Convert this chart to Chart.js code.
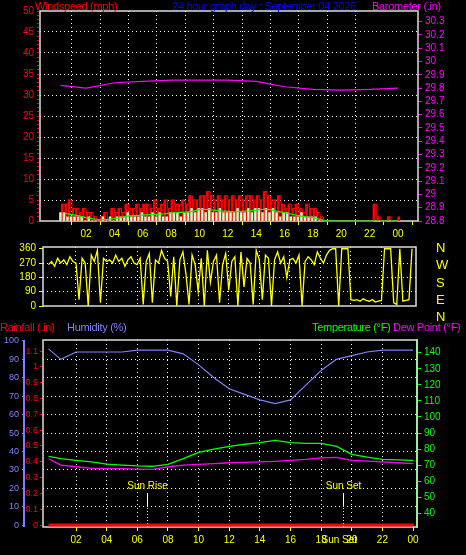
<!DOCTYPE html>
<html><head><meta charset="utf-8">
<script src="https://cdn.jsdelivr.net/npm/chart.js@4.4.1/dist/chart.umd.min.js"></script>
<style>
body{margin:0;background:#000;width:466px;height:555px;overflow:hidden;position:relative;font-family:"Liberation Sans",Arial,sans-serif}
canvas{position:absolute;left:0}
.t{position:absolute;font-size:11px;white-space:nowrap;letter-spacing:-0.3px;line-height:12px}
</style></head><body>
<div style="position:absolute;left:0;top:0;width:466px;height:240px"><canvas id="c1" width="466" height="240"></canvas></div>
<div style="position:absolute;left:0;top:238px;width:466px;height:77px"><canvas id="c2" width="466" height="77"></canvas></div>
<div style="position:absolute;left:0;top:320px;width:466px;height:235px"><canvas id="c3" width="466" height="235"></canvas></div>
<div class="t" style="left:35px;top:0;color:#f00">Windspeed (mph)</div>
<div class="t" style="left:172px;top:0;color:#00f">24 hour graph day : September 04 2026</div>
<div class="t" style="left:372px;top:0;color:#f0f">Barometer (.in)</div>
<div class="t" style="left:0;top:321px;color:#f00">Rainfall (.in)</div>
<div class="t" style="left:67px;top:321px;color:#8080ff">Humidity (%)</div>
<div class="t" style="left:312px;top:321px;color:#0f0">Temperature (°F)</div>
<div class="t" style="left:393px;top:321px;color:#f0f">Dew Point (°F)</div>
<div class="t" style="left:436px;top:239px;color:#ff0;line-height:17.3px;font-size:13px">N<br>W<br>S<br>E<br>N</div>
<script>
// ---- data ----
const xTickHours = [2,4,6,8,10,12,14,16,18,20,22,24];
const xTickLabels = ['02','04','06','08','10','12','14','16','18','20','22','00'];
const windHours = Array.from({length:96},(_,i)=>(i+1)*0.25);
const gust = [4,4,5,3,3,2,3,2, 2,1,0,1,2,0,3,2, 3,2,4,3,3,4,3,4, 4,3,5,3,4,5,3,5,
  4,4,5,4,6,5,5,6, 6,7,6,5,6,5,6,5, 6,5,6,5,6,6,5,6, 5,7,6,5,5,6,4,3,
  4,3,4,3,2,4,3,3, 2,1,0,0,0,0,0,0, 0,0,0,0,0,0,0,0, 4,1,0,0,1,0,0,1];
const avgSpeed = [2,2,1,1,1,1,1,0, 1,0,0,0,1,0,1,0, 1,1,1,2,1,1,1,2, 1,1,2,1,2,1,1,2,
  2,2,1,2,2,3,2,3, 3,2,3,2,2,3,2,2, 2,2,3,2,2,3,2,3, 3,2,3,2,3,2,1,2,
  2,1,1,1,2,1,1,1, 1,0,0,0,0,0,0,0, 0,0,0,0,0,0,0,0, 0,0,0,0,0,0,0,0];
const smoothHours = Array.from({length:48},(_,i)=>(i+1)*0.5);
const smoothAvg = [1.8,1.5,1.2,0.8,0.5,0.3,0.4,0.6, 0.8,1.2,1.3,1.4,1.5,1.6,1.7,1.9,
  2.0,2.1,2.3,2.7,2.8,2.6,2.4,2.3, 2.2,2.3,2.4,2.6,2.8,2.7,2.3,2.0,
  1.6,1.3,1.0,0.8,0.4,0,0,0, 0,0,0,0,0,0,0,0];
const baroHours = [0.2,2,4,6,8,10,12,14,16,18,20,22,24];
const barometer = [29.82,29.80,29.84,29.85,29.86,29.86,29.86,29.85,29.81,29.79,29.785,29.79,29.80];
const baroTicks = [28.8,28.9,29,29.1,29.2,29.3,29.4,29.5,29.6,29.7,29.8,29.9,30,30.1,30.2,30.3];
const dirHours = Array.from({length:120},(_,i)=>(i+1)*0.2);
const windDir = [260,280,250,300,270,290,260,310,280,270, 40,300,270,0,320,280,350,20,300,280,
  290,270,320,280,300,250,290,310,270,260, 300,10,280,330,20,290,270,350,300,280,
  60,310,0,290,340,200,10,320,260,90, 300,0,350,150,280,320,20,260,330,100,
  280,310,0,340,120,300,270,10,350,290, 40,320,300,0,290,340,270,310,180,290,
  300,270,320,0,280,310,290,260,340,300, 270,320,350,360,360, 0,360,360,360,40,
  35,40,30,45,35,30,40,25,30,35, 360,360,360,20,10,360,30,35,40,360];
const dirTicks = [0,90,180,270,360];
const hourly = [0.2,1,2,3,4,5,6,7,8,9,10,11,12,13,14,15,16,17,18,19,20,21,22,23,24];
const humidity = [95.7,90,94,94,94,94,95,95,95,93,87,80,74,71,68,66,68,76,84,90,92,94,95,95,95];
const temperature = [75.5,74,73,72,70.7,70,69.5,69.3,70.5,74,78,80,81.7,83,84,85.4,84,83.5,83.5,81.7,76.7,75,73.6,73.3,73];
const dewPoint = [74,70,69,68,68,67.8,67.5,67.4,69,70,70.5,71,71.5,71.7,72,72.4,73,73.6,74.5,74.8,73,72.5,72,71.5,71];
const rainfall = [0,0,0,0,0,0,0,0,0,0,0,0,0,0,0,0,0,0,0,0,0,0,0,0,0];
const tempTicks = [40,50,60,70,80,90,100,110,120,130,140];
const sunEvents = [{h:6.6,label:'Sun Rise'},{h:19.45,label:'Sun Set'}];

const pts=(xs,ys)=>xs.map((x,i)=>({x,y:ys[i]}));
const F={family:'Liberation Sans',size:10};
const DOT={display:false,dash:[1,3]};
const border={id:'bd',beforeDatasetsDraw(c){const a=c.chartArea,g=c.ctx;g.save();g.strokeStyle='#ddd';g.lineWidth=1.5;g.strokeRect(a.left,a.top,a.right-a.left,a.bottom-a.top);
 if(c.scales.yh){const s=c.scales.yh;g.strokeStyle='#8080ff';g.lineWidth=2;g.beginPath();g.moveTo(s.right-1,a.top);g.lineTo(s.right-1,a.bottom);g.stroke();}
 g.restore();}};
function xAxis(min,max,show,h){return {type:'linear',min,max,
  afterBuildTicks:s=>{s.ticks=xTickHours.map(v=>({value:v}));},
  ticks:{display:show,color:'#ff0',font:F,maxRotation:0,autoSkip:false,callback:(v)=>xTickLabels[xTickHours.indexOf(v)]},
  grid:{color:c=>c.tick&&c.tick.value<24?'#fff':'transparent',lineWidth:1,tickColor:'#ff0',tickLength:show?4:0,drawTicks:show},border:DOT,
  afterFit:s=>{s.height=h;}};}
Chart.defaults.animation=false;Chart.defaults.responsive=false;
Chart.defaults.plugins.legend.display=false;Chart.defaults.plugins.tooltip.enabled=false;
Chart.defaults.elements.point.radius=0;

// ---- top chart ----
new Chart('c1',{type:'bar',data:{datasets:[
 {type:'line',data:pts(baroHours,barometer),yAxisID:'yb',borderColor:'#f0f',borderWidth:1.2,order:0},
 {type:'line',data:pts(smoothHours,smoothAvg),borderColor:'#0f0',borderWidth:1.2,order:1},
 {type:'line',data:pts(windHours,gust),borderColor:'#f00',borderWidth:1,stepped:true,order:4,clip:false},
 {data:pts(windHours,avgSpeed),backgroundColor:'#ccffcc',barPercentage:1,categoryPercentage:1,order:2},
 {data:pts(windHours,gust),backgroundColor:'#f00',barPercentage:1,categoryPercentage:1,order:3}
]},options:{layout:{padding:{top:11,bottom:0}},scales:{
 x:xAxis(-0.14,24.3,true,19),
 y:{min:0,max:50,afterBuildTicks:s=>{s.ticks=Array.from({length:51},(_,i)=>({value:i}));},
   ticks:{color:'#f00',font:F,autoSkip:false,callback:v=>v%5===0?v:''},
   grid:{color:c=>c.tick&&c.tick.value%5===0&&c.tick.value>0&&c.tick.value<50?'#fff':'transparent',tickColor:'#f00',tickLength:3},
   border:DOT,afterFit:s=>{s.width=40;}},
 yb:{position:'right',min:28.8,max:30.38,afterBuildTicks:s=>{s.ticks=baroTicks.map(v=>({value:v}));},
   ticks:{color:'#f0f',font:F,autoSkip:false,callback:v=>String(Number(v.toFixed(1)))},
   grid:{drawOnChartArea:false,tickColor:'#f0f',tickLength:4},border:{display:false},afterFit:s=>{s.width=48;}}
}},plugins:[border]});

// ---- direction chart ----
new Chart('c2',{type:'line',data:{datasets:[
 {data:pts(dirHours,windDir),borderColor:'#ff0',borderWidth:1.3}
]},options:{layout:{padding:{top:5,bottom:7}},scales:{
 x:xAxis(-0.16,24.26,false,0),
 y:{min:0,max:371,afterBuildTicks:s=>{s.ticks=dirTicks.map(v=>({value:v}));},
   ticks:{color:'#ff0',font:F,autoSkip:false},
   grid:{color:c=>c.tick&&c.tick.value>0&&c.tick.value<360?'#fff':'transparent',tickColor:'#ff0',tickLength:4},
   border:DOT,afterFit:s=>{s.width=43;}},
 yr:{position:'right',display:true,ticks:{display:false},grid:{display:false},border:{display:false},afterFit:s=>{s.width=50;}}
}},plugins:[border]});

// ---- bottom chart ----
const sunPlugin={id:'sun',afterDatasetsDraw(c){const g=c.ctx,a=c.chartArea,x=c.scales.x;g.save();
 sunEvents.forEach(e=>{const px=Math.round(x.getPixelForValue(e.h))+0.5;
  g.strokeStyle='#fff';g.lineWidth=1;g.setLineDash([]);g.beginPath();g.moveTo(px,a.bottom-34);g.lineTo(px,a.bottom-22);g.stroke();
  g.strokeStyle='#ff0';g.setLineDash([1,2]);g.beginPath();g.moveTo(px,a.bottom-22);g.lineTo(px,a.bottom);g.stroke();
  g.fillStyle='#ff0';g.font='10px "Liberation Sans"';g.textAlign='center';g.fillText(e.label,px,a.bottom-38);});
 const e=sunEvents[1];g.fillText(e.label,x.getPixelForValue(e.h)-4,a.bottom+16);
 g.restore();}};
const F9={family:'Liberation Sans',size:9};
new Chart('c3',{type:'line',data:{datasets:[
 {data:pts(hourly,humidity),yAxisID:'yh',borderColor:'#8080ff',borderWidth:1.2},
 {data:pts(hourly,temperature),yAxisID:'yt',borderColor:'#0f0',borderWidth:1.3},
 {data:pts(hourly,dewPoint),yAxisID:'yt',borderColor:'#f0f',borderWidth:1.3},
 {data:pts(hourly,rainfall),yAxisID:'yr',borderColor:'#f00',borderWidth:3}
]},options:{layout:{padding:{top:20,bottom:0}},scales:{
 x:xAxis(-0.16,24.26,true,28),
 yh:{position:'left',weight:1,min:-1,max:100.5,afterBuildTicks:s=>{s.ticks=Array.from({length:11},(_,i)=>({value:i*10}));},
   ticks:{color:'#8080ff',font:F9,autoSkip:false},
   grid:{color:c=>c.tick&&c.tick.value>0&&c.tick.value<100?'#fff':'transparent',tickColor:'#8080ff',tickLength:3},
   border:DOT,afterFit:s=>{s.width=25;}},
 yr:{position:'left',weight:0,min:-0.012,max:1.17,afterBuildTicks:s=>{s.ticks=Array.from({length:12},(_,i)=>({value:i/10}));},
   ticks:{color:'#f00',font:F9,autoSkip:false,padding:2,callback:v=>String(Number(v.toFixed(1)))},
   grid:{drawOnChartArea:false,tickColor:'#f00',tickLength:3},border:{display:false},afterFit:s=>{s.width=18;}},
 yt:{position:'right',min:31.5,max:147.9,afterBuildTicks:s=>{s.ticks=tempTicks.map(v=>({value:v}));},
   ticks:{color:'#0f0',font:F,autoSkip:false},
   grid:{drawOnChartArea:false,tickColor:'#0f0',tickLength:4},border:{display:true,color:'#0f0',width:2},afterFit:s=>{s.width=49;}}
}},plugins:[border,sunPlugin]});
</script></body></html>
